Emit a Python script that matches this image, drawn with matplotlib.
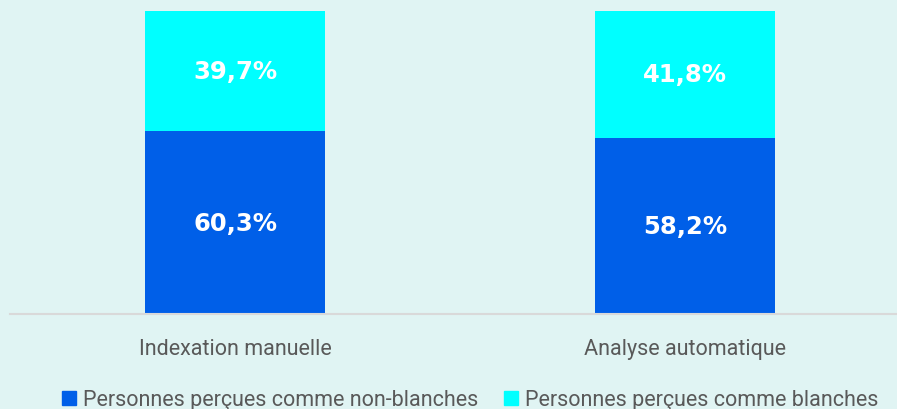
import matplotlib
matplotlib.use("Agg")
import matplotlib.pyplot as plt
from matplotlib.patches import Patch

# ---------------------------
# Data
# ---------------------------
categories = ["Indexation manuelle", "Analyse automatique"]
non_blanches = [60.3, 58.2]
blanches = [39.7, 41.8]
series_names = ["Personnes perçues comme non-blanches",
                "Personnes perçues comme blanches"]

# ---------------------------
# Style
# ---------------------------
BG = "#E0F4F3"
BLUE = "#005FE8"
CYAN = "#00FFFF"
GREY_TXT = "#595959"
TXT_FONT = ["Roboto", "DejaVu Sans"]

W, H = 897, 410
fig = plt.figure(figsize=(W / 100, H / 100), dpi=100, facecolor=BG)
ax = fig.add_axes([10 / W, (H - 315) / H, 900 / W, (315 - 12) / H])
ax.set_facecolor(BG)

x = range(len(categories))
ax.bar(x, non_blanches, width=0.4, color=BLUE, zorder=2)
ax.bar(x, blanches, width=0.4, bottom=non_blanches, color=CYAN, zorder=2)

def fmt(v):
    return f"{v:.1f}%".replace(".", ",")

for i in x:
    ax.text(i, non_blanches[i] / 2, fmt(non_blanches[i]), ha="center", va="center",
            color="white", fontsize=17.5, fontweight="bold", family="DejaVu Sans")
    ax.text(i, non_blanches[i] + blanches[i] / 2, fmt(blanches[i]), ha="center",
            va="center", color="white", fontsize=17.5, fontweight="bold",
            family="DejaVu Sans")

ax.set_xlim(-0.5, 1.5)
ax.set_ylim(0, 100)
ax.set_yticks([])
ax.set_xticks(list(x))
ax.set_xticklabels(categories, fontsize=15.5, color=GREY_TXT, family=TXT_FONT)
ax.tick_params(axis="x", length=0, pad=17)
for s in ["top", "left", "right"]:
    ax.spines[s].set_visible(False)
ax.spines["bottom"].set_color("#D9D9D9")
ax.spines["bottom"].set_linewidth(1.5)

handles = [Patch(color=BLUE), Patch(color=CYAN)]
fig.legend(handles, series_names, loc="center", bbox_to_anchor=(470 / W, 9 / H),
           ncol=2, frameon=False, handlelength=0.65, handleheight=0.65,
           handletextpad=0.33, columnspacing=1.2,
           prop={"family": TXT_FONT, "size": 15.5}, labelcolor=GREY_TXT)

fig.savefig("out.png", dpi=100, facecolor=BG)
